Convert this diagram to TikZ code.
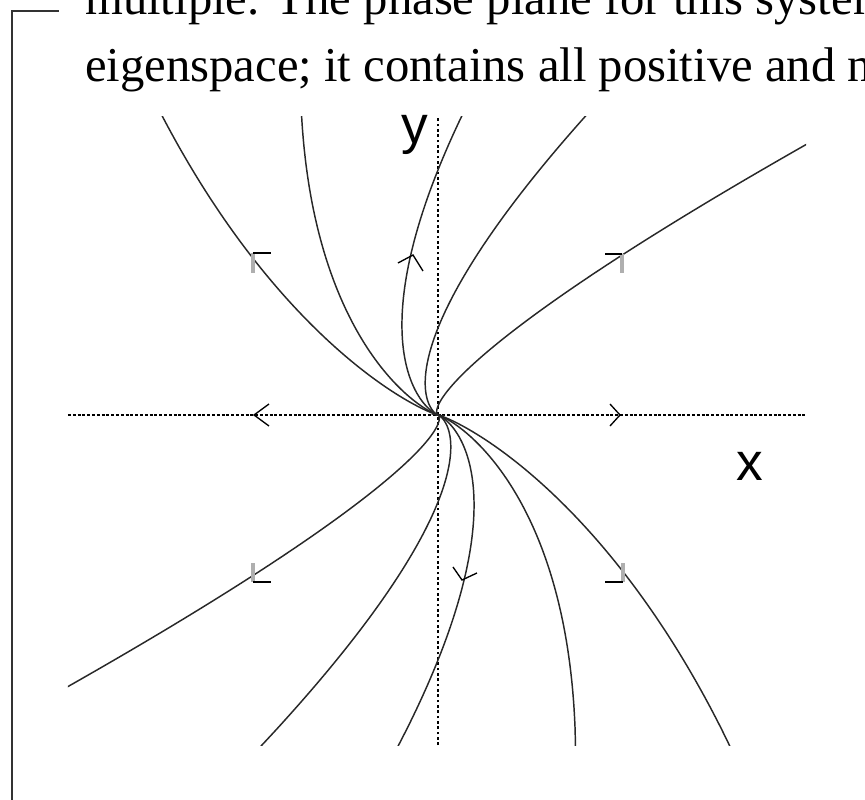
\documentclass[tikz,border=0pt]{standalone}
\usepackage{fontspec}
\setmainfont{Liberation Serif}
\setsansfont{Liberation Sans}
\usepackage{tikz}
\usetikzlibrary{calc}
\definecolor{curvegray}{RGB}{40,40,40}
\definecolor{barbgray}{RGB}{175,175,175}

\tikzset{
    traj/.style={draw=curvegray, line width=1.1pt},
    xaxisline/.style={line width=1.2pt, dash pattern=on 2.2pt off 1.4pt},
    yaxisline/.style={line width=1.1pt, dash pattern=on 2pt off 2pt},
    barb/.style={line width=1pt, black},
    barbside/.style={line width=2.4pt, barbgray},
    axlabel/.style={inner sep=0pt, anchor=base, font=\sffamily\fontsize{40}{40}\selectfont},
    textline/.style={inner sep=0pt, anchor=base west, font=\fontsize{36.5}{42}\selectfont}
}

\begin{document}
\begin{tikzpicture}[x=0.75pt, y=0.75pt]
\useasboundingbox (-438,-385) rectangle (427,415);

% page text and frame
\node[textline] (line1) at (-353,400) {multiple. The phase plane for this system};
\node[textline] (line2) at (-353,333) {eigenspace; it contains all positive and n};
\draw[line width=1.5pt, black!80] (-379,404) -- (-426,404) -- (-426,-390);

% axes
\coordinate (O) at (0,0);
\coordinate (xl) at (-370,0);
\coordinate (xr) at (367,0);
\coordinate (yb) at (0,-330);
\coordinate (yt) at (0,298);
\draw[xaxisline] (xl) -- (xr);
\draw[yaxisline] (yb) -- (yt);
\node[axlabel] (ylab) at (-23,271) {y};
\node[axlabel] (xlab) at (312,-65) {x};

% trajectories x = 0.4 y ln(y/c)
\begin{scope}
\clip (-370,-330) rectangle (368,298);
\foreach \c in {9,87,245,935,3000}{
    \draw[traj] plot[variable=\u, domain=0:10, samples=140, smooth]
        ({0.4*335*exp(-\u)*(ln(335/\c)-\u)}, {335*exp(-\u)});
    \draw[traj] plot[variable=\u, domain=0:10, samples=140, smooth]
        ({-0.4*335*exp(-\u)*(ln(335/\c)-\u)}, {-335*exp(-\u)});
}
\end{scope}

% arrow heads
\draw[barb] (-169,11) -- (-184,0) -- (-169,-11);
\draw[barb] (172,11) -- (182,0) -- (172,-11);
\draw[barb] (-40,152) -- (-25,160) -- (-15,144);
\draw[barb] (15,-152) -- (24,-165) -- (39,-158);
\draw[barbside] (-185,162) -- ++(0,-20);
\draw[barb] (-185,162) -- ++(18,0);
\draw[barbside] (184,161) -- ++(0,-19);
\draw[barb] (184,161) -- ++(-17,0);
\draw[barbside] (-185,-167) -- ++(0,19);
\draw[barb] (-185,-167) -- ++(18,0);
\draw[barbside] (185,-167) -- ++(0,19);
\draw[barb] (185,-167) -- ++(-18,0);
\end{tikzpicture}
\end{document}
